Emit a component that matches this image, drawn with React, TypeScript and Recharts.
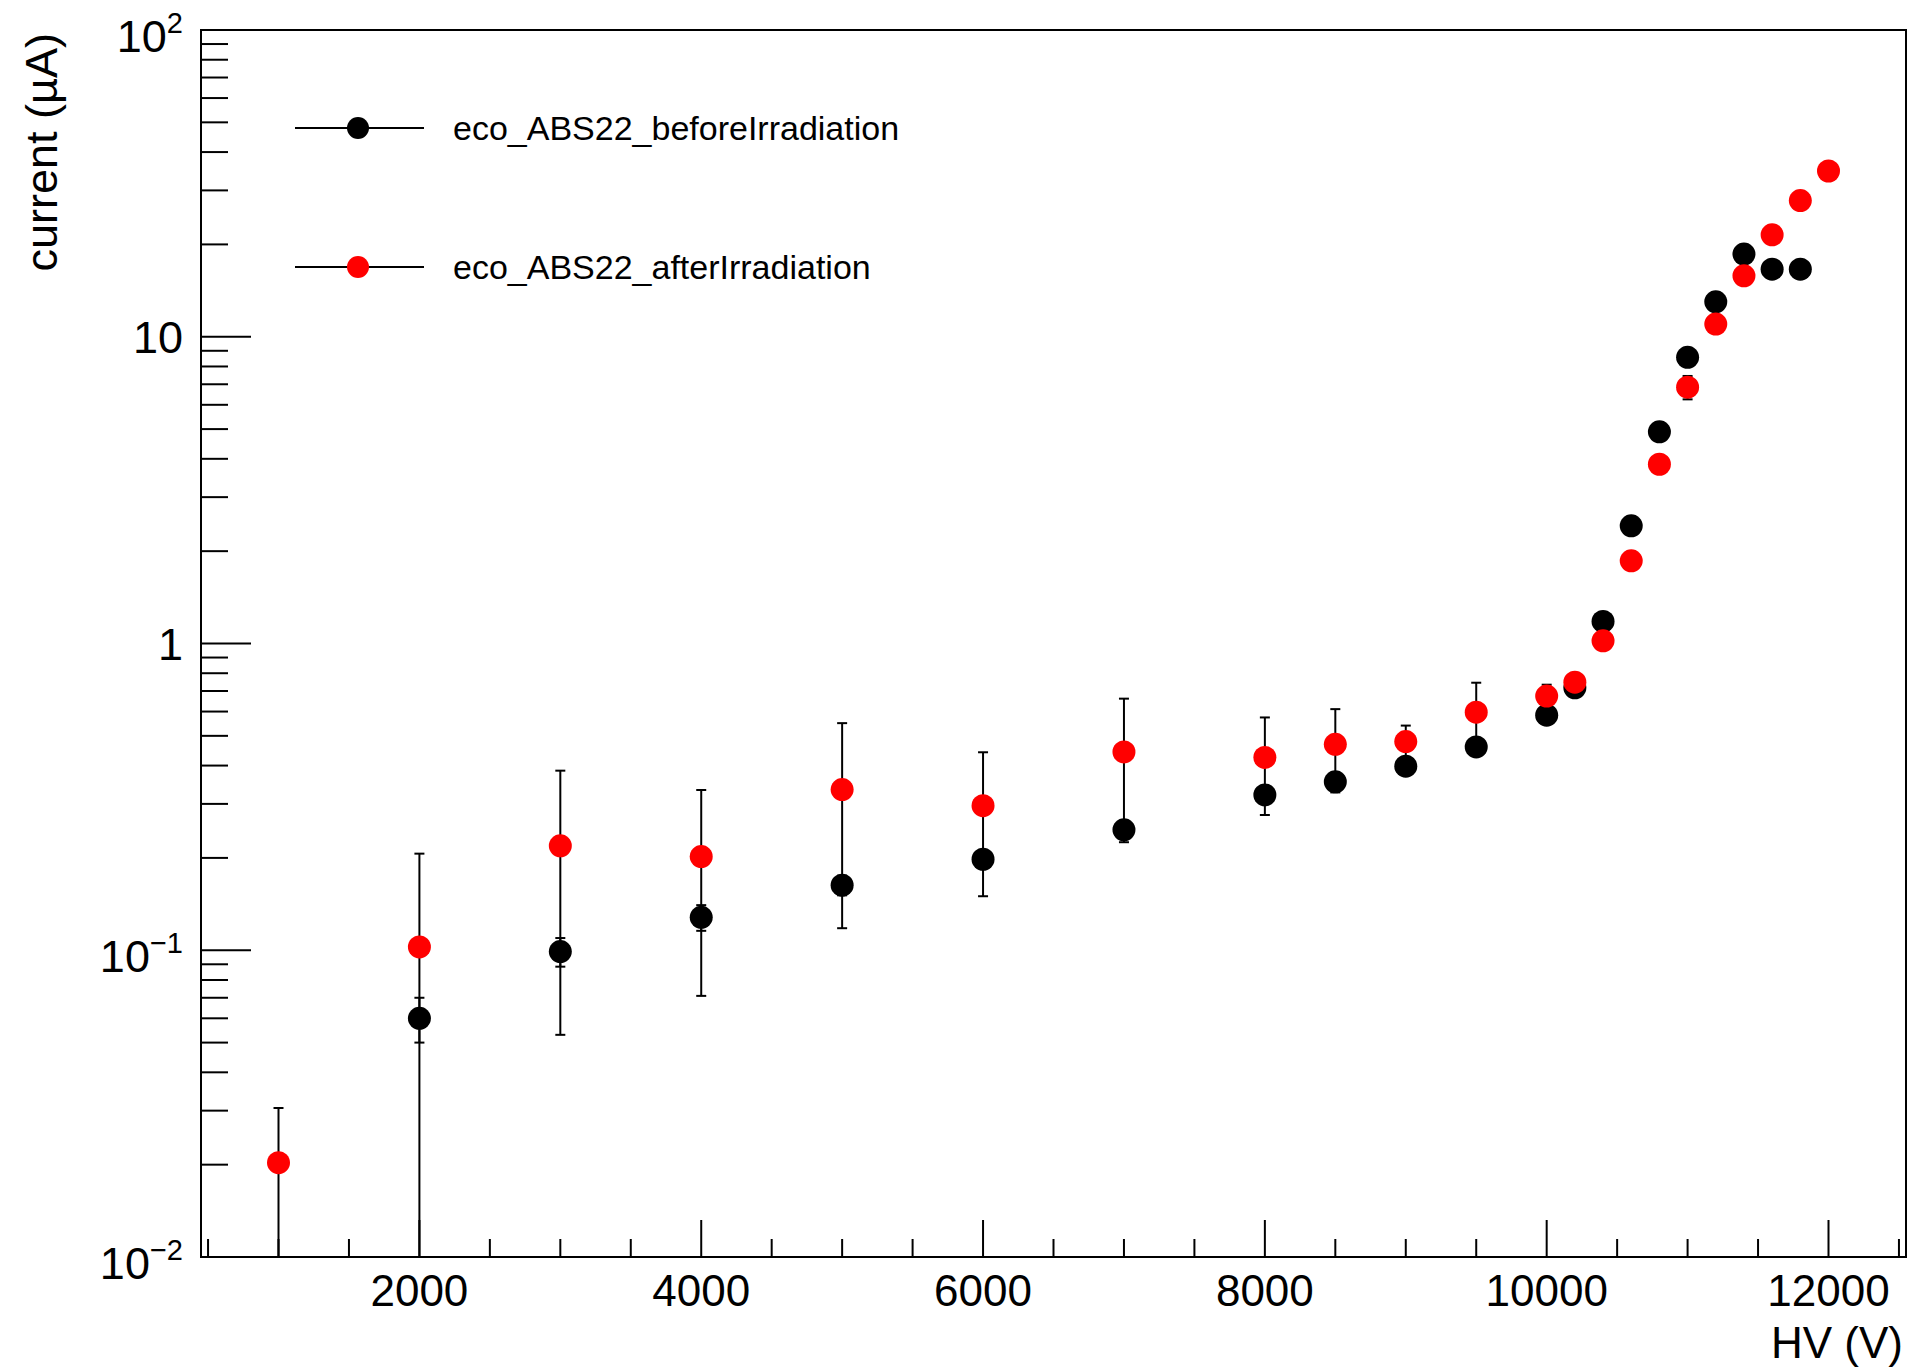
import React from "react"
import { ScatterChart, Scatter, XAxis, YAxis, ErrorBar, ReferenceArea, Legend } from "recharts"

// HV scan, before irradiation (black)
const hvBefore = [2000, 3000, 4000, 5000, 6000, 7000, 8000, 8500, 9000, 9500, 10000, 10200, 10400, 10600, 10800, 11000, 11200, 11400, 11600, 11800]
const currentBefore = [0.060, 0.099, 0.128, 0.163, 0.198, 0.247, 0.321, 0.354, 0.398, 0.460, 0.584, 0.717, 1.18, 2.42, 4.90, 8.57, 13.0, 18.6, 16.6, 16.6]
const errBefore = [0.010, 0.0106, 0.0123, 0.012, 0.012, 0.012, 0.012, 0.012, 0.012, 0.014, 0.018, 0.02, 0.03, 0.06, 0.12, 0.2, 0.3, 0.4, 0.4, 0.4]

// HV scan, after irradiation (red)
const hvAfter = [1000, 2000, 3000, 4000, 5000, 6000, 7000, 8000, 8500, 9000, 9500, 10000, 10200, 10400, 10600, 10800, 11000, 11200, 11400, 11600, 11800, 12000]
const currentAfter = [0.0203, 0.1025, 0.219, 0.202, 0.334, 0.296, 0.443, 0.425, 0.469, 0.479, 0.597, 0.674, 0.748, 1.02, 1.86, 3.84, 6.85, 11.0, 15.8, 21.5, 27.8, 34.7]
const errAfter = [0.0103, 0.104, 0.166, 0.131, 0.216, 0.146, 0.218, 0.149, 0.142, 0.061, 0.148, 0.060, 0.03, 0.04, 0.06, 0.15, 0.60, 0.4, 0.5, 0.6, 0.8, 1.0]

const xTicks = [500, 1000, 1500, 2000, 2500, 3000, 3500, 4000, 4500, 5000, 5500, 6000, 6500, 7000, 7500, 8000, 8500, 9000, 9500, 10000, 10500, 11000, 11500, 12000, 12500]
const xMajorTicks = [2000, 4000, 6000, 8000, 10000, 12000]

const yTicks = [
    0.01, 0.02, 0.03, 0.04, 0.05, 0.06, 0.07, 0.08, 0.09,
    0.1, 0.2, 0.3, 0.4, 0.5, 0.6, 0.7, 0.8, 0.9,
    1, 2, 3, 4, 5, 6, 7, 8, 9,
    10, 20, 30, 40, 50, 60, 70, 80, 90,
    100
]
const yMajorTicks = [0.01, 0.1, 1, 10, 100]
const yMajorLabels = [["10", "−2"], ["10", "−1"], ["1", ""], ["10", ""], ["10", "2"]]

const seriesNames = ["eco_ABS22_beforeIrradiation", "eco_ABS22_afterIrradiation"]

const FONT = '"Liberation Sans", Arial, Helvetica, sans-serif'
const X_MIN = 450
const X_MAX = 12550
const Y_MIN = 0.01
const Y_MAX = 100

function toPoints(hv: number[], current: number[], err: number[]) {
    // lower error clipped at the bottom of the log axis
    return hv.map((x, i) => ({
        hv: x,
        current: current[i],
        err: [Math.min(err[i], current[i] - Y_MIN), err[i]]
    }))
}

const beforeData = toPoints(hvBefore, currentBefore, errBefore)
const afterData = toPoints(hvAfter, currentAfter, errAfter)

function XTick(props: any) {
    const { x, y, payload } = props
    const major = xMajorTicks.includes(payload.value)
    return (
        <g>
            <line x1={x} y1={y} x2={x} y2={y - (major ? 37 : 18)} stroke="#000" strokeWidth={2} />
            {major && (
                <text x={x} y={y + 49} textAnchor="middle" fontSize={44} fontFamily={FONT} fill="#000">
                    {payload.value}
                </text>
            )}
        </g>
    )
}

function YTick(props: any) {
    const { x, y, payload } = props
    const idx = yMajorTicks.indexOf(payload.value)
    const major = idx >= 0
    const label = major ? yMajorLabels[idx] : null
    return (
        <g>
            <line x1={x} y1={y} x2={x + (major ? 50 : 27)} y2={y} stroke="#000" strokeWidth={2} />
            {label && (
                <text x={x - 18} y={y + (label[1] ? 22 : 16)} textAnchor="end" fontSize={45} fontFamily={FONT} fill="#000">
                    {label[0]}
                    {label[1] && <tspan dy={-19} fontSize={29}>{label[1]}</tspan>}
                </text>
            )}
        </g>
    )
}

function YTitle() {
    return (
        <text x={57} y={33} transform="rotate(-90, 57, 33)" textAnchor="end" fontSize={45} fontFamily={FONT} fill="#000">
            current (µA)
        </text>
    )
}

function XTitle() {
    return (
        <text x={1903} y={1358} textAnchor="end" fontSize={44} fontFamily={FONT} fill="#000">
            HV (V)
        </text>
    )
}

const legendRowY = [128, 267]

function renderLegend(props: any) {
    const payload = props.payload || []
    // keep the order of the series as drawn: before, then after
    const entries = seriesNames
        .map((name) => payload.find((p: any) => p.value === name))
        .filter(Boolean)
    return (
        <svg width={900} height={320} style={{ display: "block" }}>
            {entries.map((entry: any, i: number) => (
                <g key={`legend-${i}`}>
                    <line x1={295} y1={legendRowY[i]} x2={424} y2={legendRowY[i]} stroke="#000" strokeWidth={2} />
                    <circle cx={358} cy={legendRowY[i]} r={11} fill={entry.color} />
                    <text x={453} y={legendRowY[i] + 12} fontSize={34} fontFamily={FONT} fill="#000">
                        {entry.value}
                    </text>
                </g>
            ))}
        </svg>
    )
}

const dot = (color: string) => (props: any) => <circle cx={props.cx} cy={props.cy} r={11.5} fill={color} />

export default function App() {
    return (
        <div style={{ position: "absolute", left: 0, top: 0, width: 1913, height: 1367, background: "#fff" }}>
            <ScatterChart width={1913} height={1367} margin={{ top: 30, right: 7, bottom: 0, left: 0 }}>
                <XAxis
                    type="number"
                    dataKey="hv"
                    domain={[X_MIN, X_MAX]}
                    allowDataOverflow
                    ticks={xTicks}
                    interval={0}
                    tick={XTick}
                    tickLine={false}
                    tickSize={0}
                    tickMargin={0}
                    height={110}
                    axisLine={{ stroke: "#000", strokeWidth: 2 }}
                    label={<XTitle />}
                />
                <YAxis
                    type="number"
                    dataKey="current"
                    scale="log"
                    domain={[Y_MIN, Y_MAX]}
                    allowDataOverflow
                    ticks={yTicks}
                    interval={0}
                    tick={YTick}
                    tickLine={false}
                    tickSize={0}
                    tickMargin={0}
                    width={201}
                    axisLine={{ stroke: "#000", strokeWidth: 2 }}
                    label={<YTitle />}
                />
                <ReferenceArea
                    x1={X_MIN}
                    x2={X_MAX}
                    y1={Y_MIN}
                    y2={Y_MAX}
                    fill="none"
                    fillOpacity={0}
                    stroke="#000"
                    strokeWidth={2}
                    ifOverflow="visible"
                />
                <Legend
                    layout="vertical"
                    align="center"
                    verticalAlign="middle"
                    content={renderLegend}
                    wrapperStyle={{ left: 0, top: 0, width: 900, height: 320 }}
                />
                <Scatter name={seriesNames[0]} data={beforeData} fill="#000000" shape={dot("#000000")} isAnimationActive={false}>
                    <ErrorBar dataKey="err" direction="y" width={5} stroke="#000" strokeWidth={2} isAnimationActive={false} />
                </Scatter>
                <Scatter name={seriesNames[1]} data={afterData} fill="#ff0000" shape={dot("#ff0000")} isAnimationActive={false}>
                    <ErrorBar dataKey="err" direction="y" width={5} stroke="#000" strokeWidth={2} isAnimationActive={false} />
                </Scatter>
            </ScatterChart>
        </div>
    )
}
